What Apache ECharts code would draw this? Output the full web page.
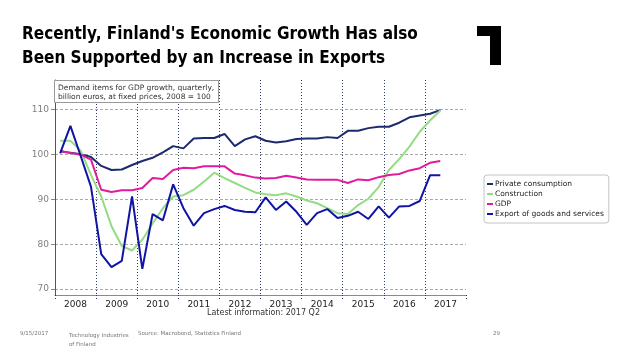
<!DOCTYPE html>
<html><head><meta charset="utf-8">
<script src="https://cdn.jsdelivr.net/npm/echarts@6/dist/echarts.min.js"></script>
<style>html,body{margin:0;padding:0;background:#fff}#c{width:638px;height:359px}</style>
</head><body><div id="c"></div><script>
const years = ['2008','2009','2010','2011','2012','2013','2014','2015','2016','2017'];
const quarters = [];
years.forEach(function (y) { for (let q = 1; q <= 4; q++) quarters.push(y + ' Q' + q); });

const privateConsumption = [100.7,100.3,100.0,99.4,97.4,96.5,96.6,97.6,98.5,99.2,100.4,101.8,101.3,103.5,103.6,103.6,104.5,101.8,103.3,104.0,103.0,102.6,102.9,103.4,103.5,103.5,103.8,103.6,105.2,105.2,105.8,106.1,106.1,107.0,108.2,108.6,109.0,109.8];
const construction = [103.0,103.0,100.8,95.4,90.6,84.0,79.6,78.6,81.0,84.6,88.0,90.6,90.9,92.1,93.9,95.9,94.7,93.6,92.5,91.5,91.1,90.9,91.3,90.6,89.7,89.1,88.0,86.9,86.7,88.7,90.1,92.7,96.5,98.9,101.7,105.0,107.5,109.7];
const gdp = [100.6,100.3,99.9,98.8,92.1,91.6,92.0,92.0,92.5,94.7,94.5,96.5,97.0,96.9,97.3,97.3,97.3,95.7,95.3,94.8,94.6,94.7,95.2,94.8,94.4,94.3,94.3,94.3,93.6,94.4,94.2,94.9,95.4,95.6,96.4,96.9,98.1,98.5];
const exportsGS = [100.2,106.3,99.6,92.8,77.8,74.9,76.3,90.6,74.5,86.7,85.3,93.3,88.0,84.1,86.9,87.8,88.5,87.6,87.2,87.1,90.4,87.6,89.5,87.2,84.3,86.9,87.8,85.8,86.3,87.2,85.6,88.4,85.9,88.4,88.5,89.6,95.3,95.3];

const seriesNames = ['Private consumption','Construction','GDP','Export of goods and services'];
const seriesColors = ['#1c2a6e','#94dc84','#e01c9e','#1014a4'];
const seriesData = [privateConsumption, construction, gdp, exportsGS];

const FONT = 'DejaVu Sans';
const chart = echarts.init(document.getElementById('c'), null, {renderer: 'canvas'});

const option = {
  animation: false,
  backgroundColor: '#ffffff',
  textStyle: {fontFamily: FONT},
  grid: {left: 55, top: 80, width: 411, height: 215},
  legend: {
    orient: 'vertical', left: 484, top: 175,
    data: seriesNames,
    icon: 'rect', itemWidth: 6, itemHeight: 2, itemGap: 0,
    padding: [4, 5, 4, 3],
    backgroundColor: '#ffffff', borderColor: '#c4c4c4', borderWidth: 1, borderRadius: 3,
    textStyle: {fontSize: 7.5, color: '#222', fontFamily: FONT, lineHeight: 10, padding: [0,0,0,-3]}
  },
  xAxis: [{
    type: 'category', data: years, position: 'bottom', boundaryGap: true,
    axisLine: {show: true, lineStyle: {color: '#8a8a8a', width: 1}},
    axisTick: {show: true, length: 5, lineStyle: {color: '#2b3a67', type: [1, 2]}},
    axisLabel: {fontSize: 9, color: '#222', margin: 5, fontFamily: FONT},
    splitLine: {show: true, showMaxLine: false, lineStyle: {color: '#2b3a67', type: [1, 2], width: 1}}
  }, {
    type: 'category', data: quarters, boundaryGap: true, show: false
  }],
  yAxis: {
    type: 'value', min: 68.7, max: 116.5, splitNumber: 5,
    axisLine: {show: true, lineStyle: {color: '#555', width: 1}},
    axisTick: {show: true, length: 4, lineStyle: {color: '#888'}},
    axisLabel: {fontSize: 9, color: '#808080', margin: 6, showMinLabel: false, showMaxLabel: false, fontFamily: FONT},
    splitLine: {show: true, showMinLine: false, showMaxLine: false, lineStyle: {color: '#a8a8a8', type: [3, 2], width: 1}}
  },
  series: seriesNames.map(function (n, i) {
    return {
      name: n, type: 'line', xAxisIndex: 1, data: seriesData[i],
      showSymbol: false, symbol: 'none', color: seriesColors[i],
      lineStyle: {width: 2, color: seriesColors[i]}
    };
  }),
  graphic: [
    {type: 'text', left: 22, top: 26, style: {text: "Recently, Finland's Economic Growth Has also", font: 'bold 17px "DejaVu Sans Condensed"', fill: '#000'}},
    {type: 'text', left: 22, top: 50, style: {text: 'Been Supported by an Increase in Exports', font: 'bold 17px "DejaVu Sans Condensed"', fill: '#000'}},
    {type: 'polygon', shape: {points: [[477,26],[501,26],[501,65],[490,65],[490,36],[477,36]]}, style: {fill: '#000'}},
    {type: 'rect', shape: {x: 54.5, y: 80.5, width: 164, height: 22}, style: {fill: '#fff', stroke: '#999', lineWidth: 1}, z: 100},
    {type: 'text', left: 58, top: 83, z: 101, style: {text: 'Demand items for GDP growth, quarterly,\nbillion euros, at fixed prices, 2008 = 100', font: '7.5px "DejaVu Sans"', fill: '#333', lineHeight: 9.5}},
    {type: 'text', left: 207, top: 309, style: {text: 'Latest information: 2017 Q2', font: '8px "DejaVu Sans"', fill: '#333'}},
    {type: 'text', left: 20, top: 331, style: {text: '9/15/2017', font: '5.5px "DejaVu Sans"', fill: '#777'}},
    {type: 'text', left: 69, top: 331, style: {text: 'Technology Industries\nof Finland', font: '5.5px "DejaVu Sans"', fill: '#777', lineHeight: 9}},
    {type: 'text', left: 138, top: 331, style: {text: 'Source: Macrobond, Statistics Finland', font: '5.5px "DejaVu Sans"', fill: '#777'}},
    {type: 'text', left: 493, top: 331, style: {text: '29', font: '5.5px "DejaVu Sans"', fill: '#777'}}
  ]
};
chart.setOption(option);
</script></body></html>
